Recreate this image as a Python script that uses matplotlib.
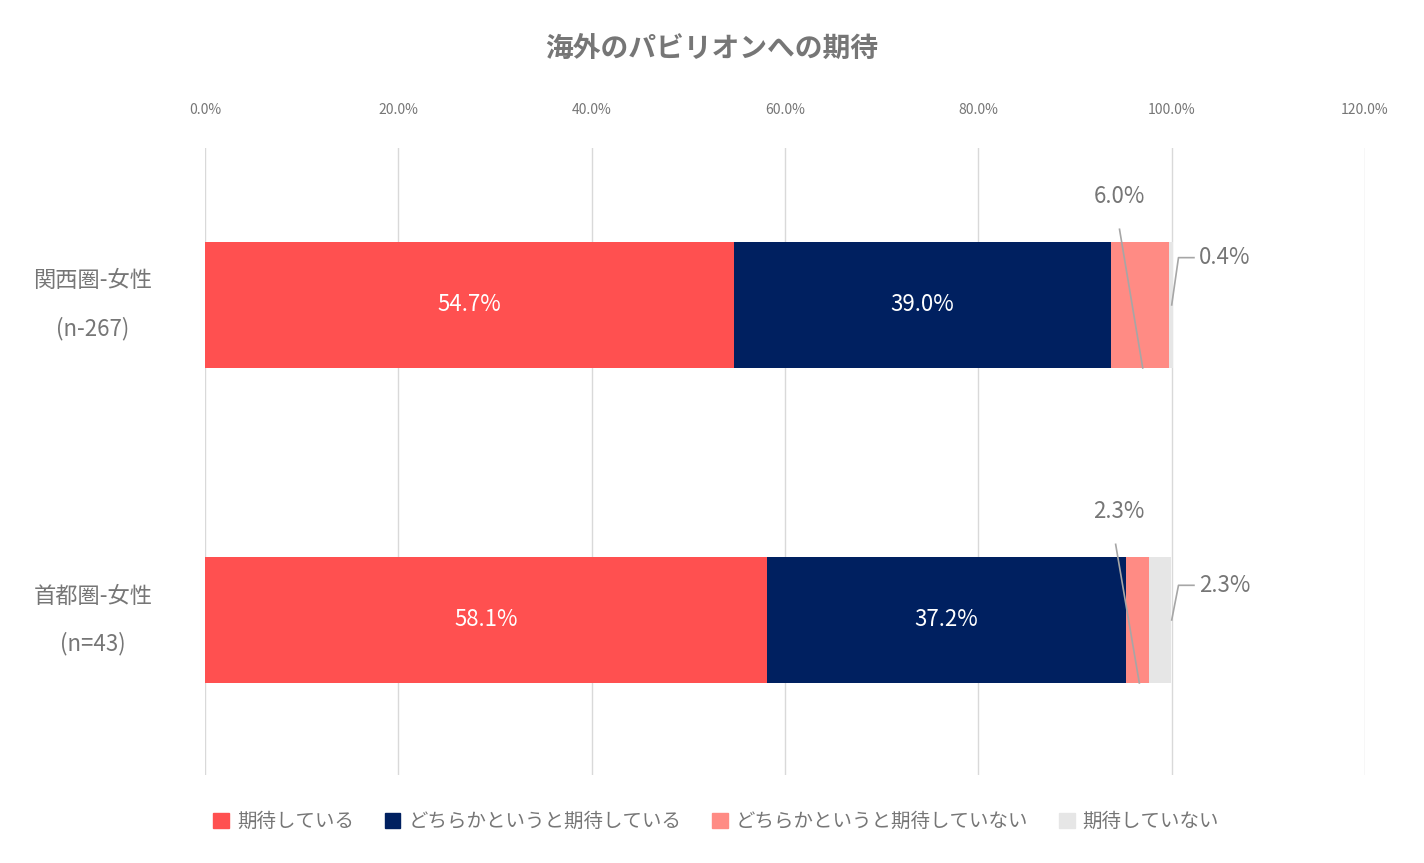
import matplotlib
matplotlib.use("Agg")
import matplotlib.pyplot as plt
from matplotlib.patches import Patch
import matplotlib.transforms as mtransforms

plt.rcParams["font.family"] = "Noto Sans CJK JP"

categories = ["関西圏-女性\n(n-267)", "首都圏-女性\n(n=43)"]
series_names = ["期待している", "どちらかというと期待している", "どちらかというと期待していない", "期待していない"]
values = [[54.7, 58.1], [39.0, 37.2], [6.0, 2.3], [0.4, 2.3]]
colors = ["#FF5050", "#002060", "#FF8B84", "#E6E6E6"]
ticks = [0, 20, 40, 60, 80, 100, 120]
tick_labels = ["0.0%", "20.0%", "40.0%", "60.0%", "80.0%", "100.0%", "120.0%"]

gray = "#767676"
fig = plt.figure(figsize=(14.24, 8.63), dpi=100)
ax = fig.add_axes([0.144, 0.102, 0.8146, 0.7265])

left = [0.0, 0.0]
for si, (name, vals, c) in enumerate(zip(series_names, values, colors)):
    ax.barh([0, 1], vals, left=left, height=0.4, color=c, label=name, zorder=3)
    if si < 2:
        for i in range(2):
            ax.text(left[i] + vals[i] / 2, i, f"{vals[i]:.1f}%", ha="center", va="center",
                    color="white", fontsize=16, zorder=4)
    left = [l + v for l, v in zip(left, vals)]

# outside labels with leader lines
base = [values[0][i] + values[1][i] for i in range(2)]
for i in range(2):
    v3 = values[2][i]
    v4 = values[3][i]
    # series 3 label above-left
    ax.text(canvas_x := 94.6 if i == 0 else 94.5, i - 0.345, f"{v3:.1f}%", ha="center", va="center",
            color=gray, fontsize=16, zorder=5)
    ax.plot([94.6 if i == 0 else 94.2, base[i] + v3 / 2 + (0.3 if i == 0 else 0.2)],
            [i - 0.24, i + 0.2], color="#A6A6A6", lw=1.2, zorder=5)
    # series 4 label right
    ax.text(academy := 102.8, i - 0.15 if i == 0 else i - 0.11, f"{v4:.1f}%", ha="left", va="center",
            color=gray, fontsize=16, zorder=5)
    yl = i - 0.15 if i == 0 else i - 0.11
    ax.plot([100.0, 100.7, 102.3], [i, yl, yl], color="#A6A6A6", lw=1.2, zorder=5)

ax.set_xlim(0, 120)
ax.set_ylim(1.492, -0.498)
ax.set_xticks(ticks)
ax.set_xticklabels(tick_labels, color=gray, fontsize=10)
ax.xaxis.tick_top()
ax.tick_params(axis="x", length=0, pad=22)
ax.set_yticks([])
ax.grid(axis="x", color="#D9D9D9", lw=1, zorder=0)
for s in ax.spines.values():
    s.set_visible(False)

trans = mtransforms.blended_transform_factory(ax.transAxes, ax.transData)
for i, cat in enumerate(categories):
    ax.text(-0.0966, i, cat, transform=trans, ha="center", va="center",
            multialignment="center", fontsize=16, color=gray, linespacing=2.3)

fig.text(0.5, 0.943, "海外のパビリオンへの期待", ha="center", va="center",
         fontsize=20, fontweight="bold", color=gray)

handles = [Patch(color=c) for c in colors]
fig.legend(handles, series_names, loc="center", bbox_to_anchor=(0.503, 0.048), ncol=4,
           frameon=False, fontsize=14, labelcolor=gray, handlelength=0.8, handleheight=0.8,
           columnspacing=1.6, handletextpad=0.4)

fig.savefig("out.png", dpi=100)
